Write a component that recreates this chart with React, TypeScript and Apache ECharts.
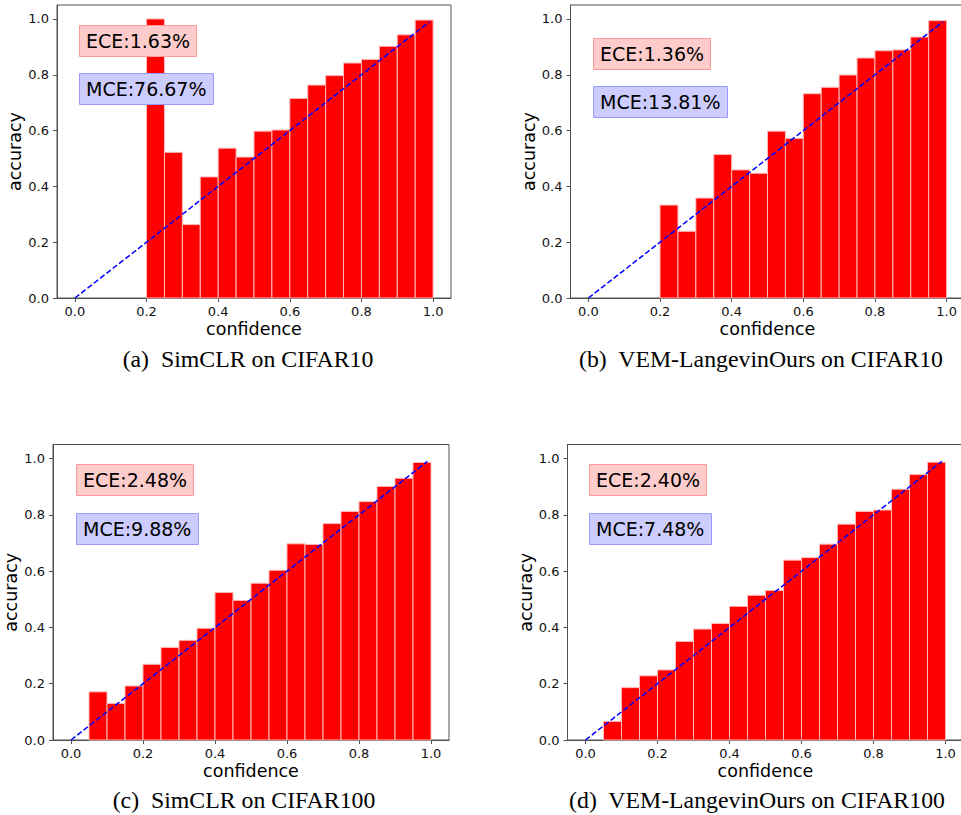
import React, { useEffect, useRef } from "react";
import * as echarts from "echarts";

// ---- data ----
const BIN_STARTS = [0.0, 0.05, 0.1, 0.15, 0.2, 0.25, 0.3, 0.35, 0.4, 0.45, 0.5, 0.55, 0.6, 0.65, 0.7, 0.75, 0.8, 0.85, 0.9, 0.95];
const BIN_WIDTH = 0.05;

const ACC_A = [null, null, null, null, 1.0, 0.522, 0.263, 0.434, 0.537, 0.505, 0.598, 0.602, 0.715, 0.763, 0.797, 0.842, 0.855, 0.902, 0.943, 0.996];
const ACC_B = [null, null, null, null, 0.333, 0.239, 0.358, 0.514, 0.459, 0.447, 0.598, 0.572, 0.732, 0.755, 0.799, 0.86, 0.886, 0.889, 0.935, 0.994];
const ACC_C = [null, 0.171, 0.13, 0.192, 0.269, 0.329, 0.354, 0.397, 0.524, 0.496, 0.557, 0.603, 0.697, 0.695, 0.769, 0.812, 0.847, 0.901, 0.93, 0.986];
const ACC_D = [null, 0.066, 0.186, 0.228, 0.249, 0.35, 0.394, 0.414, 0.475, 0.514, 0.531, 0.639, 0.648, 0.696, 0.767, 0.812, 0.817, 0.891, 0.943, 0.987];

const PERFECT_X = [0, 0.99];
const PERFECT_Y = [0, 0.99];

const ECE_LABELS = ["ECE:1.63%", "ECE:1.36%", "ECE:2.48%", "ECE:2.40%"];
const MCE_LABELS = ["MCE:76.67%", "MCE:13.81%", "MCE:9.88%", "MCE:7.48%"];
const CAPTIONS = [
  "(a)\u00a0 SimCLR on CIFAR10",
  "(b)\u00a0 VEM-LangevinOurs on CIFAR10",
  "(c)\u00a0 SimCLR on CIFAR100",
  "(d)\u00a0 VEM-LangevinOurs on CIFAR100",
];
const TICKS = [0, 0.2, 0.4, 0.6, 0.8, 1.0];
const X_NAME = "confidence";
const Y_NAME = "accuracy";

// ---- layout ----
const PANELS = [
  { acc: ACC_A, grid: { left: 57, top: 5, width: 394, height: 293 }, ece: [79, 25], mce: [79, 73], cap: [248, 359] },
  { acc: ACC_B, grid: { left: 570.5, top: 5, width: 394, height: 293 }, ece: [593, 38], mce: [593, 86], cap: [761, 359] },
  { acc: ACC_C, grid: { left: 53, top: 444.5, width: 396, height: 295.5 }, ece: [76, 464], mce: [76, 513], cap: [244, 800] },
  { acc: ACC_D, grid: { left: 567.5, top: 444.5, width: 396, height: 295.5 }, ece: [589, 464], mce: [589, 513], cap: [757, 800] },
];

const AXIS_COLOR = "#505050";
const FONT = "DejaVu Sans";

export default function App() {
  const ref = useRef<HTMLDivElement>(null);

  useEffect(() => {
    if (!ref.current) return;
    const chart = echarts.init(ref.current, null, { renderer: "svg" });

    const grids: any[] = [];
    const xAxes: any[] = [];
    const yAxes: any[] = [];
    const series: any[] = [];
    const titles: any[] = [];
    const graphics: any[] = [];

    PANELS.forEach((p, i) => {
      grids.push({
        ...p.grid,
        show: true,
        borderColor: AXIS_COLOR,
        borderWidth: 1,
        backgroundColor: "transparent",
        containLabel: false,
        outerBoundsMode: "none",
      });
      xAxes.push({
        type: "value",
        gridIndex: i,
        min: -0.05,
        max: 1.05,
        name: X_NAME,
        nameLocation: "middle",
        nameGap: 22,
        nameTextStyle: { fontFamily: FONT, fontSize: 17.5, color: "#000" },
        axisLine: { show: true, onZero: false, lineStyle: { color: AXIS_COLOR, width: 1 } },
        axisTick: { show: true, length: 4, customValues: TICKS, lineStyle: { color: AXIS_COLOR } },
        axisLabel: {
          show: true,
          customValues: TICKS,
          margin: 7,
          fontFamily: FONT,
          fontSize: 13,
          color: "#111",
          formatter: (v: number) => v.toFixed(1),
        },
        splitLine: { show: false },
      });
      yAxes.push({
        type: "value",
        gridIndex: i,
        min: 0,
        max: 1.05,
        name: Y_NAME,
        nameLocation: "middle",
        nameGap: 31,
        nameTextStyle: { fontFamily: FONT, fontSize: 17.5, color: "#000" },
        axisLine: { show: true, onZero: false, lineStyle: { color: AXIS_COLOR, width: 1 } },
        axisTick: { show: true, length: 4, customValues: TICKS, lineStyle: { color: AXIS_COLOR } },
        axisLabel: {
          show: true,
          customValues: TICKS,
          margin: 8,
          fontFamily: FONT,
          fontSize: 13,
          color: "#111",
          formatter: (v: number) => v.toFixed(1),
        },
        splitLine: { show: false },
      });

      const data = BIN_STARTS.map((x, k) => [x, p.acc[k]]).filter((d) => d[1] != null);
      series.push({
        type: "custom",
        xAxisIndex: i,
        yAxisIndex: i,
        z: 2,
        clip: false,
        data,
        renderItem: (params: any, api: any) => {
          const x0 = api.value(0);
          const y = api.value(1);
          const p1 = api.coord([x0, y]);
          const p2 = api.coord([x0 + BIN_WIDTH, 0]);
          return {
            type: "rect",
            shape: { x: p1[0], y: p1[1], width: p2[0] - p1[0], height: p2[1] - p1[1] },
            style: { fill: "#ff0000", stroke: "#ffb8b8", lineWidth: 1 },
          };
        },
      });
      series.push({
        type: "line",
        xAxisIndex: i,
        yAxisIndex: i,
        z: 3,
        showSymbol: false,
        symbol: "none",
        data: PERFECT_X.map((x, k) => [x, PERFECT_Y[k]]),
        lineStyle: { color: "#0000ff", width: 1.5, type: [5.5, 2.5] },
      });

      titles.push({
        text: ECE_LABELS[i],
        left: p.ece[0],
        top: p.ece[1],
        padding: [5, 7],
        backgroundColor: "#ffcccc",
        borderColor: "#ff9999",
        borderWidth: 1,
        textStyle: { fontFamily: FONT, fontSize: 19, fontWeight: "normal", color: "#000", lineHeight: 22 },
        z: 10,
      });
      titles.push({
        text: MCE_LABELS[i],
        left: p.mce[0],
        top: p.mce[1],
        padding: [5, 7],
        backgroundColor: "#ccccff",
        borderColor: "#9999ff",
        borderWidth: 1,
        textStyle: { fontFamily: FONT, fontSize: 19, fontWeight: "normal", color: "#000", lineHeight: 22 },
        z: 10,
      });
      graphics.push({
        type: "text",
        x: p.cap[0],
        y: p.cap[1],
        style: {
          text: CAPTIONS[i],
          fontFamily: "Liberation Serif",
          fontSize: 23.8,
          fill: "#000",
          textAlign: "center",
          textVerticalAlign: "middle",
        },
      });
    });

    chart.setOption({
      animation: false,
      backgroundColor: "#ffffff",
      grid: grids,
      xAxis: xAxes,
      yAxis: yAxes,
      series,
      title: titles,
      graphic: graphics,
    });

    return () => chart.dispose();
  }, []);

  return (
    <div
      ref={ref}
      style={{ position: "absolute", left: 0, top: 0, width: 961, height: 815 }}
    />
  );
}
